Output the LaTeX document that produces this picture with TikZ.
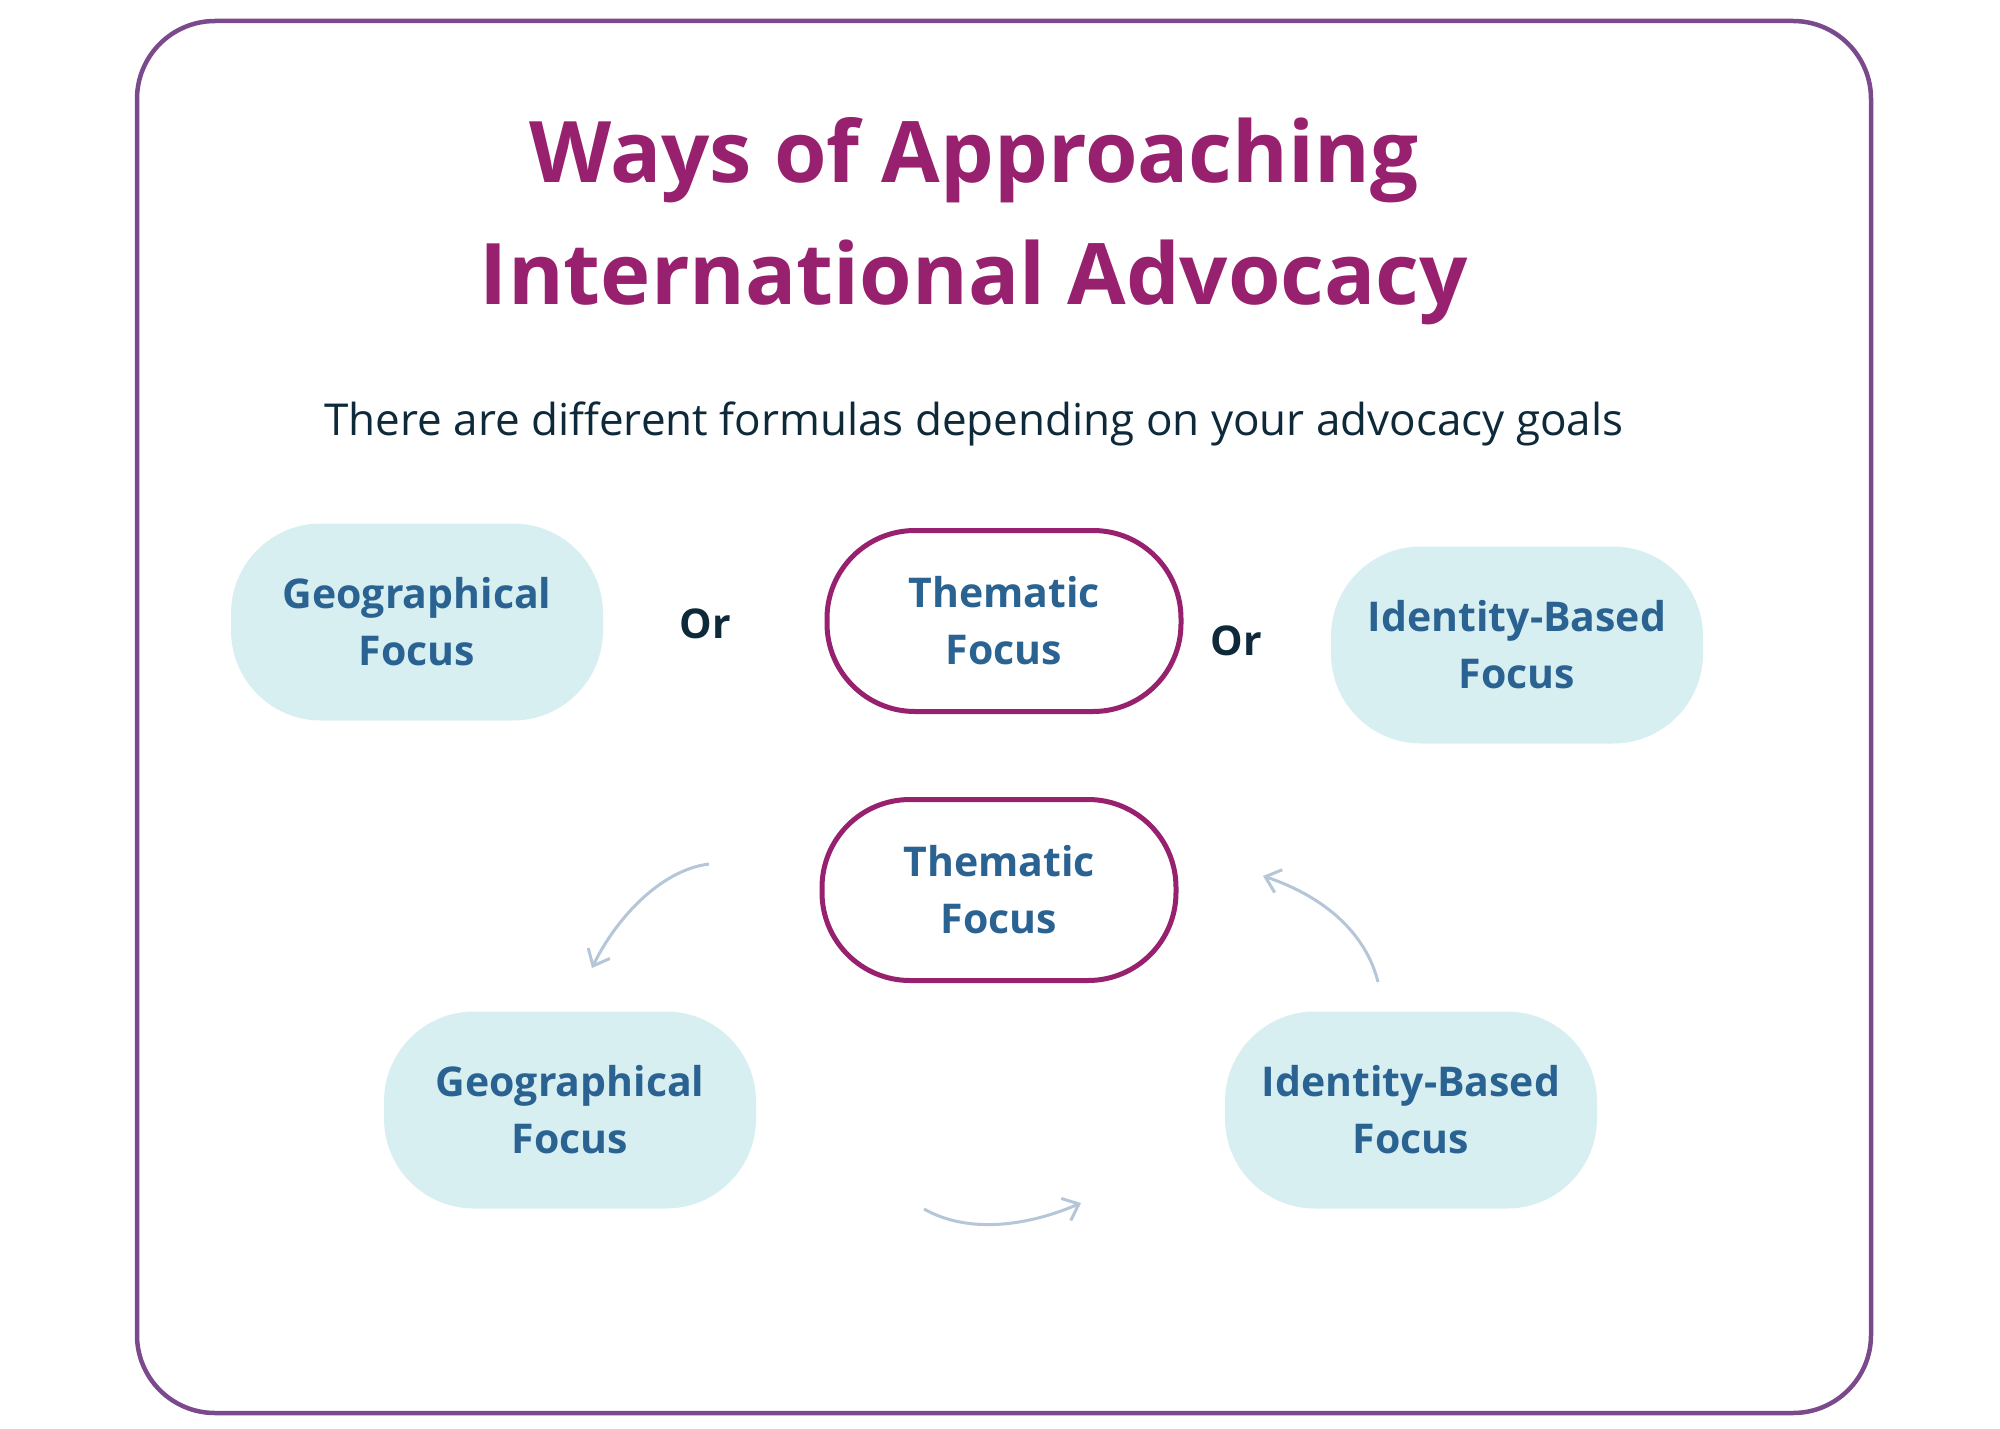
\documentclass[tikz,border=0pt]{standalone}
\usepackage{fontspec}
\setmainfont{Open Sans}
\usetikzlibrary{arrows.meta}
\definecolor{ttl}{HTML}{97216E}
\definecolor{frm}{HTML}{7B4A8C}
\definecolor{lbl}{HTML}{2A6392}
\definecolor{fll}{HTML}{D8EFF1}
\definecolor{txt}{HTML}{0E2A3A}
\definecolor{arr}{HTML}{B4C6D8}
\tikzset{
  soft/.style={fill=fll,rounded corners=90pt,minimum width=372pt,minimum height=197pt,align=center,text=lbl,font=\fontsize{41}{57}\selectfont\bfseries},
  ring/.style={draw=ttl,line width=5pt,fill=white,rounded corners=88pt,minimum width=354pt,minimum height=181pt,align=center,text=lbl,font=\fontsize{41}{57}\selectfont\bfseries},
  ortxt/.style={text=txt,font=\fontsize{41}{50}\selectfont\bfseries},
  cyc/.style={draw=arr,line width=3pt,-{Straight Barb[length=14pt,width=24pt]}}
}
\begin{document}
\begin{tikzpicture}[x=1pt,y=-1pt]
\useasboundingbox (0,0) rectangle (2000,1429);
\fill[white] (0,0) rectangle (2000,1429);
\draw[frm,line width=4.5pt,rounded corners=78pt] (137,21) rectangle (1871,1413);
\node[text=ttl,font=\fontsize{85}{100}\selectfont\bfseries] (t1) at (974,160) {Ways of Approaching};
\node[text=ttl,font=\fontsize{85}{100}\selectfont\bfseries] (t2) at (974,282) {International Advocacy};
\node[text=txt,font=\fontsize{44}{52}\selectfont] (sub) at (974,424) {There are different formulas depending on your advocacy goals};
\node[soft] (g1) at (417,622) {Geographical\\Focus};
\node[ring] (th1) at (1004,621) {Thematic\\Focus};
\node[soft] (i1) at (1517,645) {Identity-Based\\Focus};
\node[ortxt] (or1) at (705,624) {Or};
\node[ortxt] (or2) at (1236,641) {Or};
\node[ring] (th2) at (999,890) {Thematic\\Focus};
\node[soft] (g2) at (570,1110) {Geographical\\Focus};
\node[soft] (i2) at (1411,1110) {Identity-Based\\Focus};
\coordinate (a1s) at (709,864); \coordinate (a1e) at (592,968);
\coordinate (a2s) at (1378,982); \coordinate (a2e) at (1263,876);
\coordinate (a3s) at (924,1209); \coordinate (a3e) at (1081,1203);
\draw[cyc] (a1s) .. controls (660,870) and (615,920) .. (a1e);
\draw[cyc] (a2s) .. controls (1365,930) and (1320,895) .. (a2e);
\draw[cyc] (a3s) .. controls (970,1235) and (1030,1225) .. (a3e);
\end{tikzpicture}
\end{document}
